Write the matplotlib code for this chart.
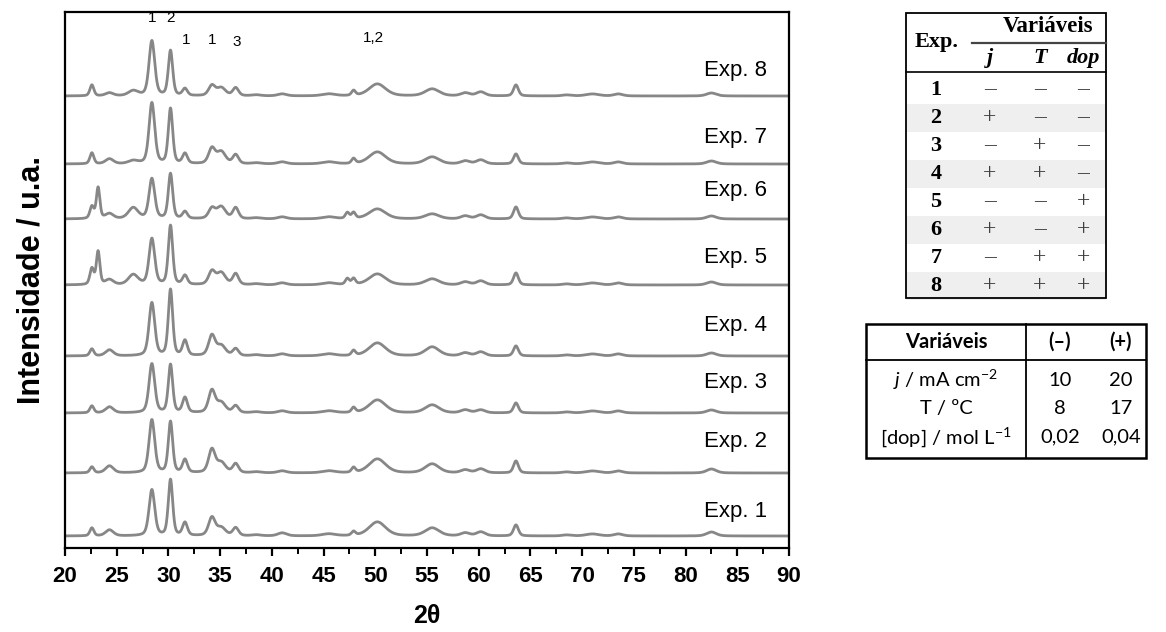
import numpy as np
import matplotlib
matplotlib.use("Agg")
import matplotlib.pyplot as plt

plt.rcParams["mathtext.fontset"] = "custom"
plt.rcParams["mathtext.rm"] = "Lato"
plt.rcParams["mathtext.it"] = "Lato:italic"

# peak positions (2theta), widths (FWHM, deg) and heights per experiment
peak_pos = [22.6, 23.2, 24.3, 26.6, 28.4, 30.2, 31.6, 34.2, 35.1, 36.5, 38.5, 41.0,
            45.5, 47.3, 47.9, 50.2, 55.5, 58.7, 60.2, 63.6, 68.5, 71.0, 73.5, 82.5]
peak_fwhm = [0.45, 0.4, 0.9, 1.1, 0.65, 0.5, 0.55, 0.75, 1.0, 0.65, 1.0, 1.0,
             1.5, 0.45, 0.45, 1.9, 1.6, 1.0, 1.0, 0.55, 1.0, 1.5, 1.0, 1.1]

exp1 = [8, 0, 6, 0, 46, 56, 13, 18, 8, 8, 1, 3, 2, 0, 4, 14, 8, 3, 4, 11, 1, 2, 2, 4]
exp2 = [6, 0, 7, 0, 53, 51, 13, 23, 10, 9, 1, 2, 2, 0, 5, 14, 9, 3, 4, 12, 1, 2, 2, 4]
exp3 = [7, 0, 6, 0, 49, 48, 15, 22, 10, 7, 1, 2, 2, 0, 5, 13, 8, 3, 3, 10, 1, 2, 2, 3]
exp4 = [7, 0, 6, 0, 53, 66, 15, 20, 10, 7, 1, 2, 2, 0, 5, 13, 9, 3, 4, 10, 1, 2, 2, 3]
exp5 = [16, 33, 5, 10, 46, 59, 9, 13, 12, 11, 1, 2, 2, 6, 6, 11, 6, 3, 4, 12, 1, 2, 2, 3]
exp6 = [12, 31, 5, 11, 40, 45, 7, 10, 12, 11, 1, 2, 2, 6, 6, 10, 5, 3, 4, 12, 1, 2, 2, 3]
exp7 = [11, 0, 5, 3, 61, 55, 10, 15, 12, 9, 1, 2, 2, 0, 5, 12, 7, 3, 4, 10, 1, 2, 2, 3]
exp8 = [11, 0, 3, 5, 55, 45, 7, 10, 8, 8, 1, 2, 2, 0, 5, 12, 7, 3, 4, 11, 1, 2, 2, 3]

patterns = [exp1, exp2, exp3, exp4, exp5, exp6, exp7, exp8]
exp_labels = ["Exp. 1", "Exp. 2", "Exp. 3", "Exp. 4", "Exp. 5", "Exp. 6", "Exp. 7", "Exp. 8"]
offsets = [12, 75, 135, 192, 263, 329, 384, 452]
label_y = [37, 107, 166, 223, 291, 358, 411, 478]

# phase labels above Exp. 8
phase_x = [28.4, 30.2, 31.7, 34.2, 36.6, 49.8]
phase_txt = ["1", "2", "1", "1", "3", "1,2"]
phase_y = [530, 530, 508, 508, 506, 510]

# design table
t1_rows = ["1", "2", "3", "4", "5", "6", "7", "8"]
t1_j = ["–", "+", "–", "+", "–", "+", "–", "+"]
t1_T = ["–", "–", "+", "+", "–", "–", "+", "+"]
t1_dop = ["–", "–", "–", "–", "+", "+", "+", "+"]

# levels table
t2_head = ["Variáveis", "(–)", "(+)"]
t2_names = [r"$\mathit{j}$ / mA cm$^{-2}$", "T / ºC", r"[dop] / mol L$^{-1}$"]
t2_minus = ["10", "8", "0,02"]
t2_plus = ["20", "17", "0,04"]

fig = plt.figure(figsize=(11.66, 6.32), dpi=100)
ax = fig.add_axes([65/1166, 84/632, 724/1166, 536/632])

x = np.linspace(20, 90, 3000)
grey = "#878787"
for h, off in zip(patterns, offsets):
    y = np.zeros_like(x)
    for p, w, a in zip(peak_pos, peak_fwhm, h):
        g = np.exp(-4*np.log(2)*((x-p)/w)**2)
        l = 1/(1+4*((x-p)/w)**2)
        y += a*(0.6*g + 0.4*l)
    ax.plot(x, y + off, color=grey, lw=2.0)

for lab, ly in zip(exp_labels, label_y):
    ax.text(87.9, ly, lab, ha="right", va="center", fontsize=16,
            family="Liberation Sans")

for px, pt, py in zip(phase_x, phase_txt, phase_y):
    ax.text(px, py, pt, ha="center", va="center", fontsize=11,
            family="Liberation Sans")

ax.set_xlim(20, 90)
ax.set_ylim(0, 536)
ax.set_yticks([])
ax.set_xticks(np.arange(20, 91, 5))
ax.set_xticks(np.arange(22.5, 90, 5), minor=True)
ax.tick_params(axis="x", which="major", direction="out", length=6, width=1.6, pad=7)
ax.tick_params(axis="x", which="minor", direction="out", length=4, width=1.4)
for lab in ax.get_xticklabels():
    lab.set_family(["Liberation Sans Narrow", "Liberation Sans"])
    lab.set_fontweight("bold")
    lab.set_fontsize(16)
for s in ax.spines.values():
    s.set_linewidth(1.6)
ax.set_xlabel("2θ", fontsize=18, fontweight="bold", labelpad=12,
              family="Liberation Sans")
ax.set_ylabel("Intensidade / u.a.", fontsize=22, fontweight="bold", labelpad=13,
              family="Liberation Sans")

# overlay for tables, pixel coordinates
ov = fig.add_axes([0, 0, 1, 1])
ov.set_xlim(0, 1166)
ov.set_ylim(632, 0)
ov.axis("off")

# table 1
L, R, T, B = 906, 1106, 13, 298
row_h = 28
first = 90
cols = [990, 1040, 1083]
for i in range(len(t1_rows)):
    yc = first + i*row_h
    if i % 2 == 1:
        ov.add_patch(plt.Rectangle((L, yc - row_h/2), R-L, row_h, color="#efefef", lw=0))
    ov.text(936, yc, t1_rows[i], ha="center", va="center", fontsize=16,
            fontweight="bold", family="Liberation Serif")
    for cx, v in zip(cols, [t1_j[i], t1_T[i], t1_dop[i]]):
        ov.text(cx, yc, v, ha="center", va="center", fontsize=17,
                family="Liberation Serif", color="#404040")
ov.add_patch(plt.Rectangle((L, T), R-L, B-T, fill=False, ec="black", lw=1.3))
ov.plot([972, R], [43, 43], color="#444444", lw=1.6)
ov.plot([L, R], [72, 72], color="black", lw=1.2)
ov.text(937, 42, "Exp.", ha="center", va="center", fontsize=16, fontweight="bold",
        family="Liberation Serif")
ov.text(1048, 27, "Variáveis", ha="center", va="center", fontsize=16.5,
        fontweight="bold", family="Liberation Serif")
for cx, v in zip(cols, ["j", "T", "dop"]):
    ov.text(cx, 58, v, ha="center", va="center", fontsize=16, fontweight="bold",
            style="italic", family="Liberation Serif")

# table 2
L2, R2, T2, B2 = 866, 1146, 324, 458
ov.add_patch(plt.Rectangle((L2, T2), R2-L2, B2-T2, fill=False, ec="black", lw=1.8))
ov.plot([L2, R2], [360, 360], color="black", lw=1.3)
ov.plot([1026, 1026], [T2, B2], color="black", lw=1.3)
for cx, v in zip([946, 1060, 1121], t2_head):
    ov.text(cx, 342, v, ha="center", va="center", fontsize=14.5,
            fontweight="bold", family="Lato")
for i, (nm, a, b) in enumerate(zip(t2_names, t2_minus, t2_plus)):
    yc = 380 + i*28.5
    ov.text(946, yc, nm, ha="center", va="center", fontsize=14.5, family="Lato")
    ov.text(1060, yc, a, ha="center", va="center", fontsize=14.5, family="Lato")
    ov.text(1121, yc, b, ha="center", va="center", fontsize=14.5, family="Lato")

fig.savefig("out.png", dpi=100)
